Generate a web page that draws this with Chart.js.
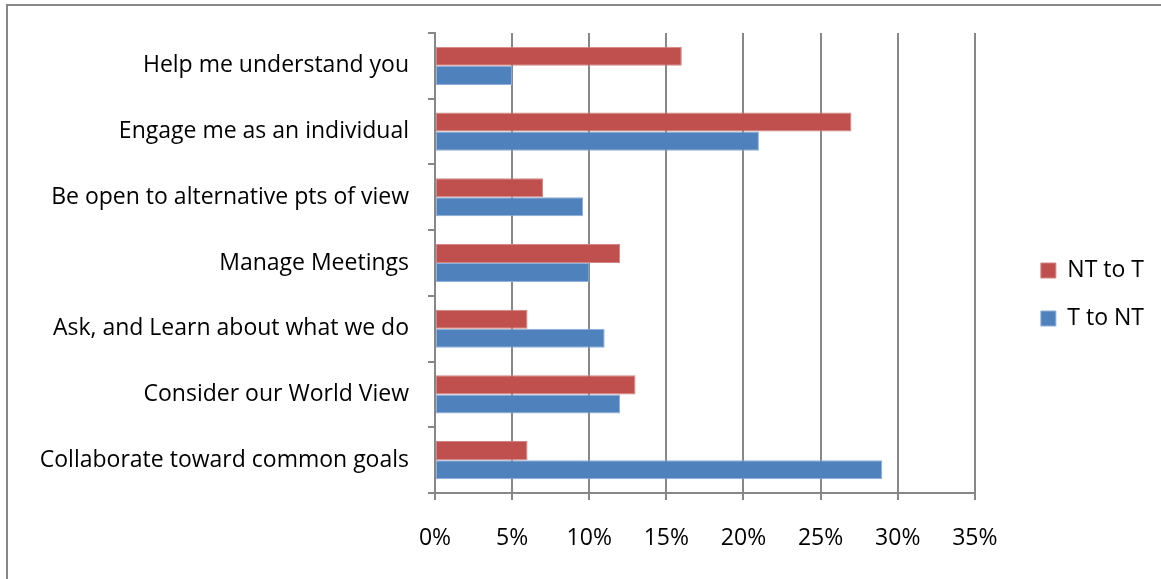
<!DOCTYPE html>
<html>
<head>
<meta charset="utf-8">
<script src="https://cdn.jsdelivr.net/npm/chart.js@4"></script>
<style>
    html, body { margin: 0; padding: 0; background: #fff; overflow: hidden; }
    #wrap { position: relative; width: 1161px; height: 579px; }
    #frame {
        position: absolute; left: 6px; top: 4px;
        width: 1200px; height: 620px;
        border: 2px solid #878787;
        box-sizing: border-box;
    }
    canvas { position: absolute; left: 0; top: 0; }
</style>
</head>
<body>
<div id="wrap">
    <div id="frame"></div>
    <canvas id="chart" width="1161" height="579"></canvas>
</div>
<script>
    // Categories, top to bottom
    const categories = [
        'Help me understand you',
        'Engage me as an individual',
        'Be open to alternative pts of view',
        'Manage Meetings',
        'Ask, and Learn about what we do',
        'Consider our World View',
        'Collaborate toward common goals'
    ];

    // Share of responses (%)
    const ntToT = [16, 27, 7, 12, 6, 13, 6];
    const tToNt = [5, 21, 9.6, 10, 11, 12, 29];

    const xTicks = [0, 5, 10, 15, 20, 25, 30, 35];

    const axisGray = '#878787';
    const fontFamily = '"Open Sans", Lato, sans-serif';

    Chart.defaults.font.family = fontFamily;
    Chart.defaults.color = '#000';

    // empty axis used only to reserve space in the layout
    function spacer(position, size) {
        return {
            type: 'linear',
            position: position,
            display: true,
            grid: { display: false, drawTicks: false },
            ticks: { display: false },
            border: { display: false },
            afterFit: (axis) => {
                if (axis.isHorizontal()) axis.height = size;
                else axis.width = size;
            }
        };
    }

    new Chart(document.getElementById('chart').getContext('2d'), {
        type: 'bar',
        data: {
            labels: categories,
            datasets: [
                {
                    label: 'NT to T',
                    data: ntToT,
                    backgroundColor: '#C0504D',
                    borderColor: '#D38583',
                    borderWidth: 1,
                    borderSkipped: false
                },
                {
                    label: 'T to NT',
                    data: tToNt,
                    backgroundColor: '#4F81BD',
                    borderColor: '#8FB0DA',
                    borderWidth: 1,
                    borderSkipped: false
                }
            ]
        },
        options: {
            indexAxis: 'y',
            responsive: false,
            animation: false,
            categoryPercentage: 0.58,
            barPercentage: 1.0,
            layout: {
                padding: { left: 0, top: 10, right: 7, bottom: 0 }
            },
            scales: {
                x: {
                    min: 0,
                    max: 35,
                    afterBuildTicks: (axis) => {
                        axis.ticks = xTicks.map(v => ({ value: v }));
                    },
                    afterFit: (axis) => { axis.height = 86; },
                    ticks: {
                        font: { size: 23 },
                        padding: 25,
                        callback: (value) => value + '%'
                    },
                    grid: {
                        color: axisGray,
                        lineWidth: 2,
                        tickLength: 7
                    },
                    border: { color: axisGray, width: 2 }
                },
                y: {
                    afterFit: (axis) => { axis.width = 435; },
                    ticks: {
                        font: { size: 23 },
                        padding: 19
                    },
                    grid: {
                        drawOnChartArea: false,
                        color: axisGray,
                        lineWidth: 2,
                        tickLength: 7
                    },
                    border: { color: axisGray, width: 2 }
                },
                topGap: spacer('top', 23),
                legendGap: spacer('right', 41)
            },
            plugins: {
                legend: {
                    position: 'right',
                    labels: {
                        boxWidth: 15,
                        boxHeight: 15,
                        padding: 25,
                        font: { size: 23 }
                    }
                },
                tooltip: { enabled: false }
            }
        }
    });
</script>
</body>
</html>
